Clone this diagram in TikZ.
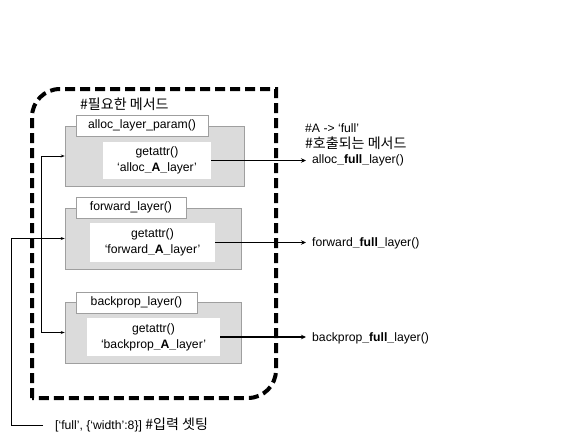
\documentclass[tikz,border=0pt]{standalone}
\usepackage{fontspec}
\setmainfont{Liberation Sans}
\newfontfamily\kr{Noto Sans CJK KR}[Scale=1.15]
\usetikzlibrary{positioning,arrows.meta}

\begin{document}
\begin{tikzpicture}[x=1pt,y=-1pt,
    font=\fontsize{12.2}{16}\selectfont,
    graybox/.style={draw=gray!75, fill=gray!28, line width=0.6pt},
    tab/.style={draw=gray!75, fill=white, line width=0.6pt, inner sep=0pt},
    callbox/.style={fill=white, align=center, inner sep=0pt},
    frame/.style={line width=4pt, dash pattern=on 10pt off 5pt},
    feed/.style={line width=0.8pt, -{Stealth[length=4pt,width=3pt]}},
    call/.style={line width=1.9pt, -{Stealth[length=5pt,width=4.5pt]}},
    ]
\useasboundingbox (0,0) rectangle (563,442);

% dashed frame
\draw[frame] (32,398) -- (32,117) .. controls (32,101.5) and (44.5,89) .. (60,89)
    -- (276,89) -- (276,370) .. controls (276,385.5) and (263.5,398) .. (248,398) -- cycle;
\node[anchor=west, inner sep=0pt] (title) at (80,104) {\kr \#필요한 메서드};

% method blocks
\node[graybox, minimum width=179, minimum height=60] (alloc-box) at (154.5,156) {};
\node[tab, minimum width=132, minimum height=21] (alloc-tab) at (142,125.5) {alloc\_layer\_param()};
\node[callbox, minimum width=108, minimum height=37] (alloc-in) at (157,160.5) {getattr()\\‘alloc\textbf{\_A\_}layer’};

\node[graybox, minimum width=176, minimum height=61] (forward-box) at (153,238.5) {};
\node[tab, minimum width=110, minimum height=21] (forward-tab) at (131,207.5) {forward\_layer()};
\node[callbox, minimum width=125, minimum height=39] (forward-in) at (152.5,242.5) {getattr()\\‘forward\textbf{\_A\_}layer’};

\node[graybox, minimum width=176, minimum height=61] (backprop-box) at (153,332.5) {};
\node[tab, minimum width=121, minimum height=21] (backprop-tab) at (136.5,302.5) {backprop\_layer()};
\node[callbox, minimum width=133, minimum height=38] (backprop-in) at (153.5,337) {getattr()\\‘backprop\textbf{\_A\_}layer’};

% called methods
\node[anchor=west, align=left, inner sep=0pt] (note) at (305,137) {\#A -> ‘full’\\{\kr \#호출되는 메서드}};
\node[anchor=west, inner sep=0pt] (alloc-out) at (312,160) {alloc\textbf{\_full\_}layer()};
\node[anchor=west, inner sep=0pt] (forward-out) at (312,243) {forward\textbf{\_full\_}layer()};
\node[anchor=west, inner sep=0pt] (backprop-out) at (312,338) {backprop\textbf{\_full\_}layer()};

\foreach \n in {alloc,forward,backprop}
    \draw[call, shorten >=6pt] (\n-in.east) -- (\n-in.east -| \n-out.west);

% input
\node[anchor=west, inner sep=0pt] (input) at (55,425) {[‘full’, \{‘width’:8\}] {\kr \#입력 셋팅}};
\draw[feed] ([xshift=-12pt]input.west) -| ([xshift=-53pt]forward-box.west) -- (forward-box.west);
\draw[feed] ([xshift=-23pt]alloc-box.west) -- (alloc-box.west);
\draw[feed] ([xshift=-23pt]alloc-box.west) |- (backprop-box.west);

\end{tikzpicture}
\end{document}
